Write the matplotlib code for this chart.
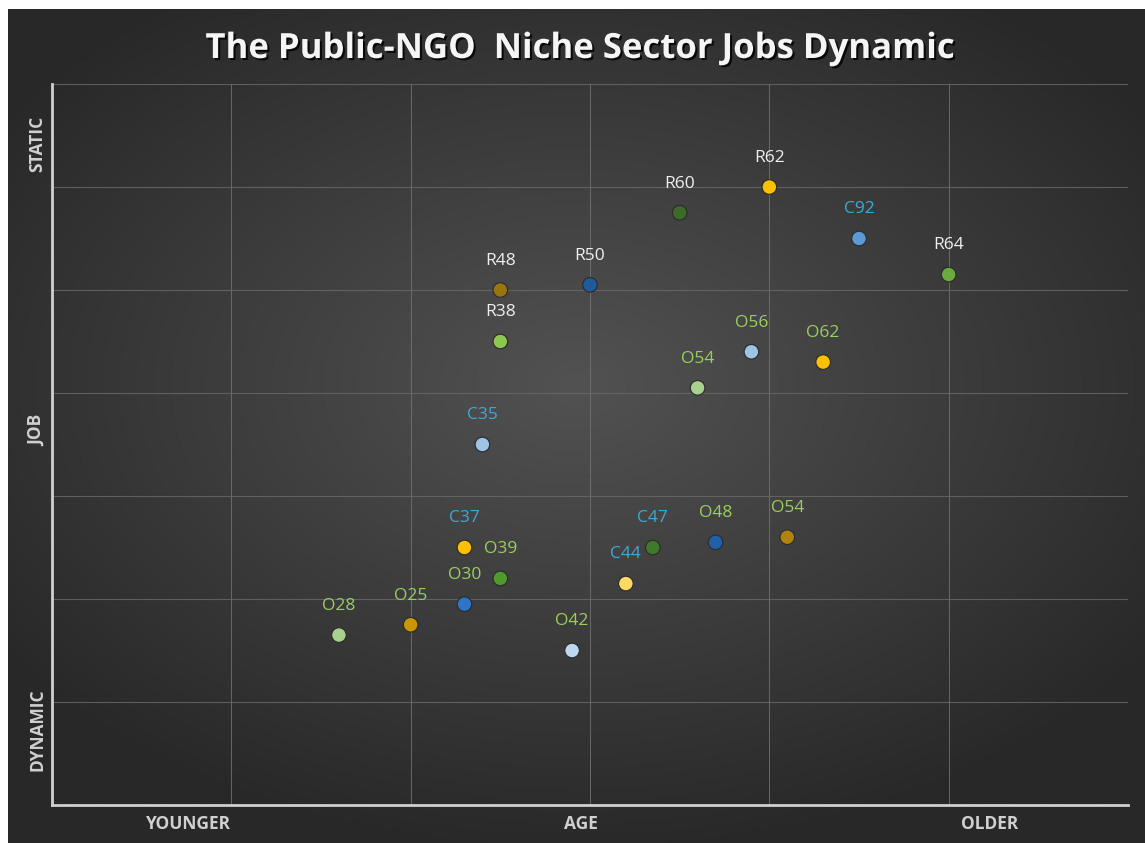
import numpy as np
import matplotlib
matplotlib.use("Agg")
import matplotlib.pyplot as plt
import matplotlib.patheffects as pe

# data
labels = ["O28", "O25", "O30", "C37", "O39", "C35", "R38", "R48", "R50", "O42",
          "C44", "C47", "O48", "O54", "O54", "O56", "O62", "R60", "R62", "C92", "R64"]
age = [1.6, 2.0, 2.3, 2.3, 2.5, 2.4, 2.5, 2.5, 3.0, 2.9,
       3.2, 3.35, 3.7, 4.1, 3.6, 3.9, 4.3, 3.5, 4.0, 4.5, 5.0]
job = [1.65, 1.75, 1.95, 2.5, 2.2, 3.5, 4.5, 5.0, 5.05, 1.5,
       2.15, 2.5, 2.55, 2.6, 4.05, 4.4, 4.3, 5.75, 6.0, 5.5, 5.15]
dot_colors = ["#a9d18e", "#c9960a", "#2e75c8", "#ffc000", "#4f9a2c", "#9dc3e6", "#8cc850",
              "#9a7410", "#1f5a9a", "#bdd7ee", "#ffd966", "#3f7a28", "#2060a8", "#b0820c",
              "#a9d18e", "#9dc3e6", "#ffc000", "#3b6a2a", "#ffc000", "#5b9bd5", "#6aab40"]
group_colors = {"R": "#f0f0f0", "C": "#3fa9d5", "O": "#9bcf5c"}

xtick_pos = [0.76, 2.95, 5.23]
xtick_labels = ["YOUNGER", "AGE", "OLDER"]
ytick_pos = [0.73, 3.64, 6.42]
ytick_labels = ["DYNAMIC", "JOB", "STATIC"]

W, H = 1145, 843
fig = plt.figure(figsize=(W / 100, H / 100), dpi=100)
fig.patch.set_facecolor("white")

# dark radial background
bg = fig.add_axes([8 / W, 0, 1 - 8 / W, (H - 9) / H])
bg.set_axis_off()
gx, gy = np.meshgrid(np.linspace(-1, 1, 400), np.linspace(-1, 1, 300))
r = np.clip(np.sqrt((gx * 1.0) ** 2 + ((gy + 0.1) * 1.1) ** 2) / 1.25, 0, 1)
c0 = np.array([0x52, 0x52, 0x52]) / 255
c1 = np.array([0x28, 0x28, 0x28]) / 255
img = c0[None, None, :] * (1 - r[..., None]) + c1[None, None, :] * r[..., None]
bg.imshow(img, aspect="auto", extent=[0, 1, 0, 1])

ax = fig.add_axes([52 / W, (H - 805) / H, (1128 - 52) / W, (805 - 84) / H])
ax.patch.set_alpha(0)
ax.set_xlim(0, 6)
ax.set_ylim(0, 7)

# grid lines
for v in range(1, 7):
    ax.axvline(v, color="#767676", lw=0.7, alpha=0.8, zorder=1)
for v in range(1, 8):
    ax.axhline(v, color="#6a6a6a", lw=0.8, alpha=0.8, zorder=1)

for s in ["top", "right"]:
    ax.spines[s].set_visible(False)
for s in ["left", "bottom"]:
    ax.spines[s].set_color("#d0d0d0")
    ax.spines[s].set_linewidth(2)

ax.scatter(age, job, s=110, c=dot_colors, edgecolors="#2a2a2a", linewidths=0.8, zorder=3)

for lab, xv, yv in zip(labels, age, job):
    ax.annotate(lab, (xv, yv), xytext=(0, 21), textcoords="offset points",
                ha="center", va="center", fontsize=12.5, family="Open Sans",
                color=group_colors[lab[0]], zorder=4)

ax.set_xticks(xtick_pos)
ax.set_xticklabels(xtick_labels, fontsize=12.5, fontweight="bold", family="Open Sans",
                   color="#d0d0d0")
ax.set_yticks(ytick_pos)
ax.set_yticklabels(ytick_labels, fontsize=12.5, fontweight="bold", family="Open Sans",
                   color="#d0d0d0", rotation=90, va="center")
ax.tick_params(axis="x", length=0, pad=7)
ax.tick_params(axis="y", length=0, pad=4)

fig.text(580 / W, 1 - 49 / H, "The Public-NGO  Niche Sector Jobs Dynamic",
         ha="center", va="center", fontsize=25, fontweight="bold", family="Open Sans",
         color="#f5f5f5",
         path_effects=[pe.withSimplePatchShadow(offset=(1.5, -1.5), shadow_rgbFace="black", alpha=0.8)])

fig.savefig("out.png", dpi=100)
